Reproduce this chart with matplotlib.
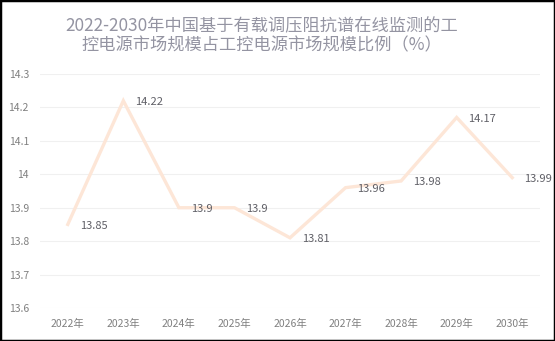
import matplotlib
matplotlib.use("Agg")
import matplotlib.pyplot as plt
from matplotlib.patches import Rectangle

plt.rcParams['font.family'] = ['Noto Sans CJK SC', 'DejaVu Sans']

years = ["2022年", "2023年", "2024年", "2025年", "2026年", "2027年", "2028年", "2029年", "2030年"]
values = [13.85, 14.22, 13.9, 13.9, 13.81, 13.96, 13.98, 14.17, 13.99]
y_ticks = [13.6, 13.7, 13.8, 13.9, 14.0, 14.1, 14.2, 14.3]
y_tick_labels = ["13.6", "13.7", "13.8", "13.9", "14", "14.1", "14.2", "14.3"]
title = "2022-2030年中国基于有载调压阻抗谱在线监测的工\n控电源市场规模占工控电源市场规模比例（%）"

W, H, DPI = 555, 341, 100
fig = plt.figure(figsize=(W / DPI, H / DPI), dpi=DPI)
fig.patch.set_facecolor("white")

ax = fig.add_axes([40 / W, 1 - 308 / H, 500 / W, 234 / H])
x = list(range(len(years)))
ax.plot(x, values, color="#fde6d7", linewidth=2.4, solid_joinstyle="miter", zorder=3)

for xi, v in zip(x, values):
    label = f"{v:g}"
    ax.annotate(label, (xi, v), xytext=(8.5, -1), textcoords="offset points",
                ha="left", va="center", fontsize=8, color="#5f5f66", zorder=4)

ax.set_xlim(-0.5, len(years) - 0.5)
ax.set_ylim(13.6, 14.3)
ax.set_yticks(y_ticks)
ax.set_yticklabels(y_tick_labels)
ax.set_xticks(x)
ax.set_xticklabels(years)
ax.tick_params(axis="both", length=0, labelsize=7.5, labelcolor="#808080")
ax.tick_params(axis="y", pad=8)
ax.tick_params(axis="x", pad=8)
ax.grid(axis="y", color="#f0f0f0", linewidth=0.8)
ax.set_axisbelow(True)
for s in ax.spines.values():
    s.set_visible(False)

fig.text(262 / W, 1 - 36 / H, title, ha="center", va="center", fontsize=12.4,
         color="#9494a2", linespacing=1.1)

fig.patches.append(Rectangle((0, 0), 1, 1, transform=fig.transFigure, fill=False,
                             edgecolor="black", linewidth=2.5, zorder=10))

fig.savefig("out.png", dpi=DPI)
